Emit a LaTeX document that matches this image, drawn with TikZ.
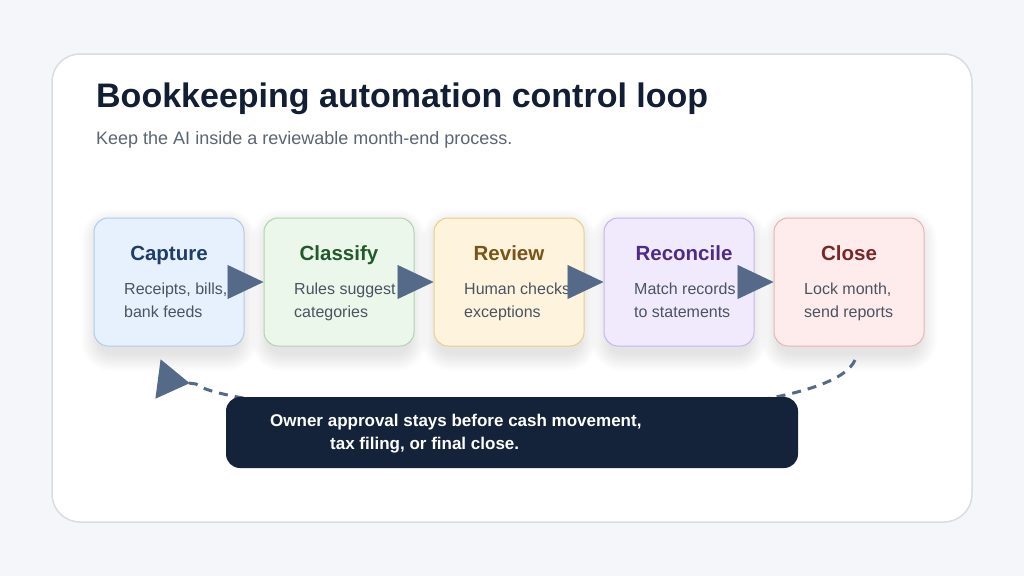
\documentclass[tikz,border=0pt]{standalone}
\usepackage{fontspec}
\setmainfont{Liberation Sans}
\usetikzlibrary{arrows.meta}
\definecolor{bg}{HTML}{F4F6F9}
\definecolor{cardline}{HTML}{D8DDE4}
\definecolor{titlec}{HTML}{111E33}
\definecolor{subc}{HTML}{5B6573}
\definecolor{bodyc}{HTML}{4A5361}
\definecolor{arrowc}{HTML}{556A89}
\definecolor{notec}{HTML}{15233A}
\definecolor{capf}{HTML}{E7F1FD}\definecolor{capd}{HTML}{AFCBEA}\definecolor{capt}{HTML}{1E3D69}
\definecolor{clsf}{HTML}{EBF7EA}\definecolor{clsd}{HTML}{AFD4AC}\definecolor{clst}{HTML}{235A2B}
\definecolor{revf}{HTML}{FEF4DE}\definecolor{revd}{HTML}{EACD8A}\definecolor{revt}{HTML}{7A5316}
\definecolor{recf}{HTML}{F1EAFD}\definecolor{recd}{HTML}{C6B5EE}\definecolor{rect}{HTML}{4F2B85}
\definecolor{clof}{HTML}{FDECEB}\definecolor{clod}{HTML}{E6B4B3}\definecolor{clot}{HTML}{7B2626}
\pgfdeclarelayer{back}
\pgfdeclarelayer{mid}
\pgfsetlayers{back,mid,main}
\begin{document}
\begin{tikzpicture}[x=1pt,y=-1pt,
  card/.style={draw=cardline, line width=1.5pt, fill=white, rounded corners=28pt,
    minimum width=920pt, minimum height=468pt, inner sep=0pt},
  stepbox/.style={draw, line width=1pt, rounded corners=14pt, minimum width=150pt,
    minimum height=128pt, inner sep=0pt},
  steptitle/.style={anchor=base, inner sep=0pt, font=\fontsize{20.5}{24}\selectfont\bfseries},
  stepbody/.style={anchor=base west, inner sep=0pt, text=bodyc, font=\fontsize{16}{23}\selectfont},
  flow/.style={draw=arrowc, line width=0.5pt, -{Triangle[length=36pt,width=34pt]}, arrowc},
  loop/.style={draw=arrowc, line width=3pt, dash pattern=on 9pt off 7pt,
    -{Triangle[reversed,length=32pt,width=39pt]}, arrowc},
  notebox/.style={fill=notec, rounded corners=14pt, minimum width=572pt, minimum height=71pt, inner sep=0pt},
  notetext/.style={anchor=base west, inner sep=0pt, text=white, font=\fontsize{17}{23}\selectfont\bfseries},
  shade/.style={fill=black, opacity=0.011}
]
\begin{pgfonlayer}{back}
\useasboundingbox (0,0) rectangle (1024,576);
\fill[bg] (0,0) rectangle (1024,576);
\node[card] (card) at (512,288) {};
\end{pgfonlayer}
\node[anchor=base west, inner sep=0pt, text=titlec, font=\fontsize{34}{40}\selectfont\bfseries] (title) at (96,107) {Bookkeeping automation control loop};
\node[anchor=base west, inner sep=0pt, text=subc, font=\fontsize{18}{22}\selectfont] (sub) at (96,144) {Keep the AI inside a reviewable month-end process.};

\node[stepbox, draw=capd, fill=capf] (cap) at (169,282) {};
\node[stepbox, draw=clsd, fill=clsf] (cls) at (339,282) {};
\node[stepbox, draw=revd, fill=revf] (rev) at (509,282) {};
\node[stepbox, draw=recd, fill=recf] (rec) at (679,282) {};
\node[stepbox, draw=clod, fill=clof] (clo) at (849,282) {};

\begin{pgfonlayer}{mid}
\foreach \b in {cap,cls,rev,rec,clo}{
  \foreach \i in {0,2,...,16}{
    \fill[shade, rounded corners=14pt+\i pt] ([shift={(-\i+4,8-\i)}]\b.north west) rectangle ([shift={(\i-4,8+\i)}]\b.south east);
  }
}
\end{pgfonlayer}

\node[steptitle, text=capt] (capT) at (169,260) {Capture};
\node[steptitle, text=clst] (clsT) at (339,260) {Classify};
\node[steptitle, text=revt] (revT) at (509,260) {Review};
\node[steptitle, text=rect] (recT) at (684,260) {Reconcile};
\node[steptitle, text=clot] (cloT) at (849,260) {Close};

\node[stepbody] (capB) at (124,294) {\begin{tabular}[t]{@{}l@{}}Receipts, bills,\\bank feeds\end{tabular}};
\node[stepbody] (clsB) at (294,294) {\begin{tabular}[t]{@{}l@{}}Rules suggest\\categories\end{tabular}};
\node[stepbody] (revB) at (464,294) {\begin{tabular}[t]{@{}l@{}}Human checks\\exceptions\end{tabular}};
\node[stepbody] (recB) at (634,294) {\begin{tabular}[t]{@{}l@{}}Match records\\to statements\end{tabular}};
\node[stepbody] (cloB) at (804,294) {\begin{tabular}[t]{@{}l@{}}Lock month,\\send reports\end{tabular}};

\draw[flow] (cap.east) -- (cls.west);
\draw[flow] (cls.east) -- (rev.west);
\draw[flow] (rev.east) -- (rec.west);
\draw[flow] (rec.east) -- (clo.west);

\coordinate (loopend) at (158,379);
\coordinate (loopstart) at (855,360);
\draw[loop] (loopstart) .. controls (820,440) and (240,420) .. (196,384) -- (loopend);

\node[notebox] (note) at (512,432.5) {};
\node[notetext] (noteT) at (270,426) {\begin{tabular}[t]{@{}l@{}}Owner approval stays before cash movement,\\\hspace*{60pt}tax filing, or final close.\end{tabular}};
\end{tikzpicture}
\end{document}
